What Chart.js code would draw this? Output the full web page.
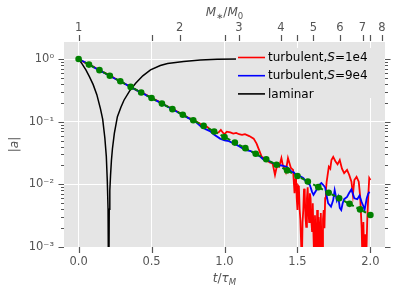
<!DOCTYPE html>
<html lang="en">
<head>
<meta charset="UTF-8">
<title>|a| vs t/tau_M</title>
<script src="https://cdn.jsdelivr.net/npm/chart.js@4"></script>
<style>
  html, body { margin: 0; padding: 0; background: #fff; }
  #wrap { width: 399px; height: 292px; }
</style>
</head>
<body>
<div id="wrap"><canvas id="chart" width="399" height="292"></canvas></div>
<script>
// Axis ticks
const bottomTicks = [0, 0.5, 1.0, 1.5, 2.0];
const topTickLabels = [1, 2, 3, 4, 5, 6, 7, 8];          // M*/M0, placed at t = ln(M*/M0)
const yDecades = [1e-3, 1e-2, 1e-1, 1];
const yTickLabels = ['10\u207B\u00B3', '10\u207B\u00B2', '10\u207B\u00B9', '10\u2070'];

// turbulent, S=1e4 (red)
const redT = [0, 0.05, 0.10, 0.15, 0.20, 0.25, 0.30, 0.35, 0.40, 0.45, 0.50, 0.55, 0.60, 0.65, 0.70, 0.75, 0.80,
  0.83, 0.86, 0.88, 0.90, 0.92, 0.94, 0.96, 0.975, 0.99, 1.00, 1.016, 1.04, 1.06, 1.08, 1.10, 1.12, 1.14, 1.17,
  1.20, 1.22, 1.24, 1.255, 1.27, 1.29, 1.31, 1.33, 1.346, 1.36, 1.375, 1.39, 1.40, 1.41, 1.42, 1.435, 1.445,
  1.455, 1.47, 1.48, 1.485, 1.49, 1.495, 1.50, 1.505, 1.51, 1.515, 1.52, 1.525, 1.53, 1.535, 1.54, 1.545, 1.55,
  1.555, 1.56, 1.565, 1.57, 1.575, 1.58, 1.585, 1.59, 1.595, 1.60, 1.605, 1.61, 1.615, 1.62, 1.625, 1.63, 1.635,
  1.64, 1.645, 1.65, 1.655, 1.66, 1.665, 1.67, 1.675, 1.68, 1.685, 1.69, 1.695, 1.70, 1.705, 1.715, 1.725, 1.733,
  1.745, 1.76, 1.775, 1.79, 1.805, 1.82, 1.84, 1.855, 1.87, 1.88, 1.89, 1.905, 1.92, 1.93, 1.94, 1.946, 1.952,
  1.958, 1.964, 1.97, 1.978, 1.985, 1.992, 2.00];
const redA = [1, 0.861, 0.759, 0.646, 0.569, 0.490, 0.422, 0.367, 0.316, 0.279, 0.240, 0.209, 0.180, 0.158, 0.135, 0.116, 0.102,
  0.0933, 0.0813, 0.0832, 0.0759, 0.0708, 0.0646, 0.0676, 0.0741, 0.0661, 0.0631, 0.0692, 0.0676, 0.0646, 0.0661, 0.0631, 0.0617, 0.0631, 0.0589,
  0.0537, 0.0447, 0.0339, 0.0275, 0.0263, 0.0240, 0.0224, 0.0214, 0.0141, 0.0200, 0.0191, 0.0263, 0.0200, 0.0182, 0.0158, 0.0263, 0.0219,
  0.0182, 0.0170, 0.0072, 0.0120, 0.0141, 0.0060, 0.0039, 0.0095, 0.0091, 0.0040, 0.0027, 0.0012, 0.0005, 0.0025, 0.0039, 0.0085, 0.0072,
  0.0030, 0.0021, 0.0060, 0.0090, 0.0039, 0.0025, 0.0072, 0.0060, 0.0027, 0.0018, 0.0050, 0.0015, 0.0006, 0.0032, 0.0012, 0.0005, 0.0039,
  0.0009, 0.0030, 0.0021, 0.0006, 0.0035, 0.0010, 0.0005, 0.0028, 0.0039, 0.0020, 0.0060, 0.0081, 0.0110, 0.0132, 0.0191, 0.0178, 0.0245,
  0.0275, 0.0234, 0.0209, 0.0245, 0.0178, 0.0151, 0.0170, 0.0141, 0.0110, 0.0068, 0.0117, 0.0132, 0.0110, 0.0063, 0.0020, 0.0005, 0.0025,
  0.0005, 0.0016, 0.0005, 0.0025, 0.0063, 0.0126, 0.0117];

// turbulent, S=9e4 (blue)
const blueT = [0, 0.05, 0.10, 0.15, 0.20, 0.25, 0.30, 0.35, 0.40, 0.45, 0.50, 0.55, 0.60, 0.65, 0.70, 0.75, 0.80,
  0.835, 0.87, 0.90, 0.93, 0.97, 1.00, 1.03, 1.06, 1.10, 1.14, 1.18, 1.21, 1.24, 1.266, 1.30, 1.33, 1.357, 1.39,
  1.426, 1.448, 1.46, 1.475, 1.49, 1.51, 1.54, 1.56, 1.585, 1.60, 1.61, 1.63, 1.645, 1.664, 1.68, 1.69, 1.70,
  1.71, 1.73, 1.745, 1.755, 1.77, 1.78, 1.79, 1.80, 1.81, 1.82, 1.84, 1.853, 1.87, 1.88, 1.89, 1.91, 1.925, 1.94,
  1.95, 1.96, 1.975, 1.985, 1.994];
const blueA = [1, 0.871, 0.750, 0.646, 0.562, 0.484, 0.427, 0.363, 0.316, 0.275, 0.237, 0.207, 0.178, 0.155, 0.133, 0.115, 0.100,
  0.0851, 0.0759, 0.0708, 0.0617, 0.0537, 0.0501, 0.0490, 0.0452, 0.0407, 0.0355, 0.0339, 0.0302, 0.0282, 0.0251, 0.0240, 0.0219, 0.0204, 0.0200,
  0.0191, 0.0170, 0.0158, 0.0155, 0.0141, 0.0138, 0.0126, 0.0110, 0.0098, 0.0076, 0.0068, 0.0081, 0.0096, 0.0105, 0.0096, 0.0089, 0.0066,
  0.0050, 0.0044, 0.0056, 0.0081, 0.0055, 0.0063, 0.0042, 0.0039, 0.0050, 0.0058, 0.0063, 0.0072, 0.0083, 0.0071, 0.0060, 0.0058, 0.0066, 0.0052,
  0.0046, 0.0039, 0.0060, 0.0071, 0.0076];

// laminar (black)
const laminarT = [0, 0.025, 0.05, 0.075, 0.10, 0.125, 0.15, 0.165, 0.18, 0.19, 0.197, 0.202, 0.206, 0.21, 0.214, 0.219,
  0.225, 0.232, 0.245, 0.266, 0.29, 0.311, 0.35, 0.391, 0.44, 0.493, 0.56, 0.61, 0.72, 0.834, 0.95, 1.1, 2.0];
const laminarA = [1, 0.83, 0.67, 0.52, 0.39, 0.27, 0.16, 0.11, 0.055, 0.028, 0.011, 0.004, 0.0001, 0.004, 0.008, 0.014,
  0.024, 0.037, 0.065, 0.12, 0.17, 0.22, 0.31, 0.41, 0.54, 0.67, 0.79, 0.85, 0.91, 0.965, 0.99, 1.0, 1.0];

// reference decay (green dashes with dots)
const greenT = [0, 0.071, 0.143, 0.214, 0.286, 0.357, 0.429, 0.5, 0.571, 0.643, 0.714, 0.786, 0.857, 0.929, 1.0,
  1.071, 1.143, 1.214, 1.286, 1.357, 1.429, 1.5, 1.571, 1.643, 1.714, 1.786, 1.857, 1.929, 2.0];
const greenA = [1.0, 0.815, 0.664, 0.541, 0.441, 0.359, 0.293, 0.2385, 0.1944, 0.1585, 0.1291, 0.1052, 0.0857, 0.0699, 0.0569,
  0.0464, 0.0378, 0.0308, 0.0251, 0.0205, 0.0167, 0.0136, 0.0111, 0.00902, 0.00735, 0.00599, 0.00488, 0.00398, 0.00324];

const FONT = 'DejaVu Sans';
const GREY = '#555555';
Chart.defaults.font.family = FONT;

function pts(ts, as) {
  return ts.map((t, i) => ({ x: t, y: as[i] }));
}

function isDecade(v) {
  return yDecades.some(d => Math.abs(v - d) / d < 1e-6);
}

// text made of pieces (italic, subscripts) drawn one after another
function drawPieces(ctx, pieces, x, y) {
  let w = 0;
  pieces.forEach(p => { ctx.font = p.font; w += ctx.measureText(p.text).width; });
  let cx = x - w / 2;
  pieces.forEach(p => {
    ctx.font = p.font;
    ctx.fillText(p.text, cx, y + (p.dy || 0));
    cx += ctx.measureText(p.text).width;
  });
}

const background = {
  id: 'background',
  beforeDraw(chart) {
    const { ctx, chartArea: a } = chart;
    ctx.save();
    ctx.fillStyle = '#E5E5E5';
    ctx.fillRect(a.left, a.top, a.right - a.left, a.bottom - a.top);
    ctx.restore();
  }
};

// legend in the upper right, with the same grey box as the plot
const legendEntries = [
  { color: '#FF0000', parts: ['turbulent,', 'S', '=1e4'] },
  { color: '#0000FF', parts: ['turbulent,', 'S', '=9e4'] },
  { color: '#000000', parts: ['laminar'] }
];
const legendBox = {
  id: 'legendBox',
  afterDatasetsDraw(chart) {
    const { ctx, chartArea: a } = chart;
    const left = a.right - 149, top = a.top + 6;
    ctx.save();
    ctx.fillStyle = '#E5E5E5';
    ctx.fillRect(left, top, 148, 50);
    ctx.textBaseline = 'middle';
    legendEntries.forEach((e, i) => {
      const y = top + 9.5 + i * 18.2;
      ctx.strokeStyle = e.color;
      ctx.lineWidth = 1.6;
      ctx.beginPath();
      ctx.moveTo(left + 2, y);
      ctx.lineTo(left + 29, y);
      ctx.stroke();
      ctx.fillStyle = '#000';
      let x = left + 32;
      e.parts.forEach((p, j) => {
        ctx.font = (j === 1 ? 'italic ' : '') + '12px ' + FONT;
        ctx.fillText(p, x, y + 0.5);
        x += ctx.measureText(p).width;
      });
    });
    ctx.restore();
  }
};

const extras = {
  id: 'extras',
  afterDraw(chart) {
    const { ctx, chartArea: a, scales } = chart;
    ctx.save();
    ctx.strokeStyle = GREY;
    ctx.lineWidth = 1.2;
    ctx.beginPath();
    // y tick marks, long on decades, short on the others, both sides
    scales.y.ticks.forEach(t => {
      const py = Math.round(scales.y.getPixelForValue(t.value)) + 0.5;
      const len = isDecade(t.value) ? 5.5 : 3;
      ctx.moveTo(a.left - len, py); ctx.lineTo(a.left, py);
      ctx.moveTo(a.right, py); ctx.lineTo(a.right + len, py);
    });
    // x tick marks, bottom and top
    scales.x.ticks.forEach(t => {
      const px = Math.round(scales.x.getPixelForValue(t.value)) + 0.5;
      ctx.moveTo(px, a.bottom); ctx.lineTo(px, a.bottom + 6);
    });
    scales.xTop.ticks.forEach(t => {
      const px = Math.round(scales.xTop.getPixelForValue(t.value)) + 0.5;
      ctx.moveTo(px, a.top - 7); ctx.lineTo(px, a.top - 1);
    });
    ctx.stroke();
    // axis titles
    ctx.fillStyle = GREY;
    ctx.textBaseline = 'alphabetic';
    const cx = (a.left + a.right) / 2;
    const big = '12px ' + FONT, bigI = 'italic 12px ' + FONT, small = '8.5px ' + FONT, smallI = 'italic 8.5px ' + FONT;
    drawPieces(ctx, [
      { text: 'M', font: bigI }, { text: '\u2217', font: small, dy: 3 }, { text: '/', font: big },
      { text: 'M', font: bigI }, { text: '0', font: small, dy: 3 }
    ], cx, 16);
    drawPieces(ctx, [
      { text: 't', font: bigI }, { text: '/', font: big }, { text: '\u03C4', font: bigI },
      { text: 'M', font: smallI, dy: 3 }
    ], cx, 282);
    ctx.translate(17.5, (a.top + a.bottom) / 2);
    ctx.rotate(-Math.PI / 2);
    drawPieces(ctx, [{ text: '|', font: big }, { text: 'a', font: bigI }, { text: '|', font: big }], 0, 0);
    ctx.restore();
  }
};

const topTickValues = topTickLabels.map(m => Math.log(m)).concat(bottomTicks.slice(1)).sort((p, q) => p - q);

const tickFont = { family: FONT, size: 11.5 };

new Chart(document.getElementById('chart'), {
  type: 'line',
  data: {
    datasets: [
      { label: 'green', data: pts(greenT, greenA), borderColor: '#008000', backgroundColor: '#008000',
        borderWidth: 2, borderDash: [4, 3], pointRadius: 3.3, pointBorderWidth: 0, order: 0, clip: 0 },
      { label: 'laminar', data: pts(laminarT, laminarA), borderColor: '#000', borderWidth: 1.5,
        pointRadius: 0, order: 1, clip: 0 },
      { label: 'turbulent, S=9e4', data: pts(blueT, blueA), borderColor: '#0000FF', borderWidth: 1.8,
        pointRadius: 0, order: 2, clip: 0 },
      { label: 'turbulent, S=1e4', data: pts(redT, redA), borderColor: '#FF0000', borderWidth: 1.8,
        pointRadius: 0, order: 3, clip: 0 }
    ]
  },
  options: {
    responsive: false,
    animation: false,
    devicePixelRatio: 1,
    layout: { padding: { left: 0, right: 14, top: 0, bottom: 0 } },
    plugins: { legend: { display: false }, tooltip: { enabled: false } },
    elements: { line: { tension: 0 } },
    scales: {
      x: {
        type: 'linear', position: 'bottom', min: -0.1, max: 2.1,
        afterBuildTicks: s => { s.ticks = bottomTicks.map(v => ({ value: v })); },
        afterFit: s => { s.height = 45; },
        ticks: { callback: v => v.toFixed(1), color: GREY, font: tickFont, padding: 8, autoSkip: false, maxRotation: 0 },
        grid: { color: '#FFFFFF', lineWidth: 1, drawTicks: false },
        border: { display: false }
      },
      xTop: {
        type: 'linear', position: 'top', min: -0.1, max: 2.1,
        afterBuildTicks: s => { s.ticks = topTickValues.map(v => ({ value: v })); },
        afterFit: s => { s.height = 42; },
        ticks: {
          callback: v => {
            const m = topTickLabels.find(k => Math.abs(Math.log(k) - v) < 1e-9);
            return m === undefined ? '' : String(m);
          },
          color: GREY, font: tickFont, padding: 7, autoSkip: false, maxRotation: 0
        },
        grid: { drawOnChartArea: false, drawTicks: false },
        border: { display: false }
      },
      y: {
        type: 'logarithmic', position: 'left', min: 1e-3, max: 1.87,
        afterBuildTicks: s => {
          const list = [];
          yDecades.forEach(d => {
            for (let k = 1; k <= 9; k++) {
              if (k * d <= s.max) list.push({ value: k * d });
            }
          });
          s.ticks = list;
        },
        afterFit: s => { s.width = 64; },
        ticks: {
          callback: v => {
            const i = yDecades.findIndex(d => Math.abs(v - d) / d < 1e-6);
            return i >= 0 ? yTickLabels[i] : '';
          },
          color: GREY, font: tickFont, padding: 10, autoSkip: false
        },
        grid: {
          color: c => (c.tick && isDecade(c.tick.value)) ? '#FFFFFF' : 'rgba(0,0,0,0)',
          lineWidth: 1, drawTicks: false
        },
        border: { display: false }
      }
    }
  },
  plugins: [background, legendBox, extras]
});
</script>
</body>
</html>
